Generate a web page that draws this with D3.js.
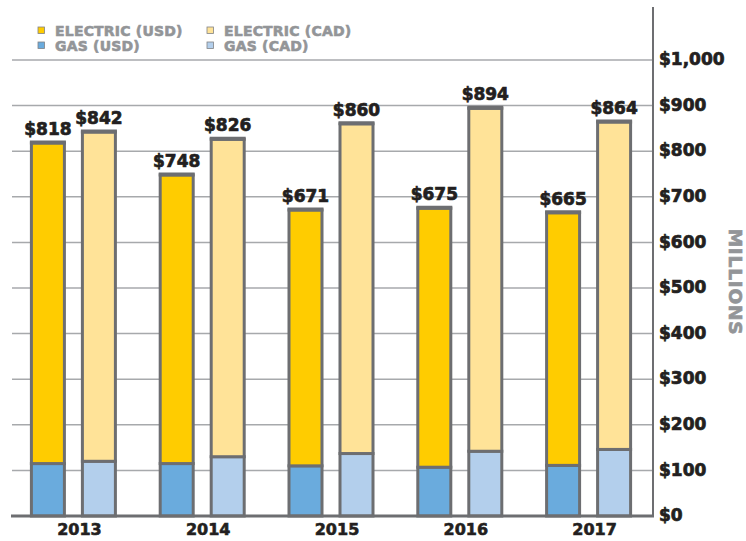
<!DOCTYPE html>
<html>
<head>
<meta charset="utf-8">
<script src="https://cdn.jsdelivr.net/npm/d3@7"></script>
<style>
  html, body { margin: 0; padding: 0; background: #fff; }
  svg { display: block; }
  text { font-family: "DejaVu Sans", sans-serif; font-weight: bold; }
</style>
</head>
<body>
<script>
// Revenue by year, in millions
const years = ["2013", "2014", "2015", "2016", "2017"];
const totalUsd = [818, 748, 671, 675, 665];
const totalCad = [842, 826, 860, 894, 864];
const gasUsd = [115, 115, 110, 107, 111];
const gasCad = [120, 130, 137, 142, 146];
const yTicks = [0, 100, 200, 300, 400, 500, 600, 700, 800, 900, 1000];

const legendItems = [
  { label: "ELECTRIC (USD)", color: "#ffcc00" },
  { label: "ELECTRIC (CAD)", color: "#ffe398" },
  { label: "GAS (USD)", color: "#6aabdd" },
  { label: "GAS (CAD)", color: "#b3cfec" }
];

const W = 746, H = 541;
const svg = d3.select("body").append("svg").attr("width", W).attr("height", H);

const plotLeft = 9, plotRight = 653, baseY = 516, topY = 60;
const x = d3.scaleBand().domain(years).range([plotLeft, plotRight]).padding(0);
const y = d3.scaleLinear().domain([0, 1000]).range([baseY, topY]);

const stroke = "#6d6e71";
const gridColor = "#a7a9ac";
const textDark = "#231f20";
const textGrey = "#939598";

// gridlines
svg.append("g").selectAll("line").data(yTicks.filter(d => d > 0)).join("line")
  .attr("x1", 12).attr("x2", plotRight)
  .attr("y1", d => y(d)).attr("y2", d => y(d))
  .attr("stroke", gridColor).attr("stroke-width", 1.5);

// bars
const barW = 33, offset = 25.5;
const rows = years.map((yr, i) => ({
  year: yr,
  bars: [
    { dx: -offset, gas: gasUsd[i], total: totalUsd[i], gasColor: "#6aabdd", elecColor: "#ffcc00" },
    { dx: offset, gas: gasCad[i], total: totalCad[i], gasColor: "#b3cfec", elecColor: "#ffe398" }
  ]
}));

const groups = svg.append("g").selectAll("g").data(rows).join("g")
  .attr("transform", d => `translate(${x(d.year) + x.bandwidth() / 2},0)`);

const bars = groups.selectAll("g.bar").data(d => d.bars).join("g").attr("class", "bar");

bars.append("rect")
  .attr("x", d => d.dx - barW / 2).attr("width", barW)
  .attr("y", d => y(d.gas)).attr("height", d => y(0) - y(d.gas))
  .attr("fill", d => d.gasColor).attr("stroke", stroke).attr("stroke-width", 3);

bars.append("rect")
  .attr("x", d => d.dx - barW / 2).attr("width", barW)
  .attr("y", d => y(d.total)).attr("height", d => y(d.gas) - y(d.total))
  .attr("fill", d => d.elecColor).attr("stroke", stroke).attr("stroke-width", 3);

// heavier cap on bar tops
bars.append("line")
  .attr("x1", d => d.dx - barW / 2 - 1.5).attr("x2", d => d.dx + barW / 2 + 1.5)
  .attr("y1", d => y(d.total) - 0.5).attr("y2", d => y(d.total) - 0.5)
  .attr("stroke", stroke).attr("stroke-width", 4);

bars.append("text")
  .attr("x", d => d.dx).attr("y", d => y(d.total) - 8)
  .attr("text-anchor", "middle").attr("font-size", 17).attr("fill", textDark)
  .attr("stroke", textDark).attr("stroke-width", 0.7)
  .text(d => "$" + d.total);

// baseline and axis line
svg.append("line").attr("x1", 11).attr("x2", plotRight + 1)
  .attr("y1", baseY).attr("y2", baseY)
  .attr("stroke", stroke).attr("stroke-width", 3);
svg.append("line").attr("x1", plotRight).attr("x2", plotRight)
  .attr("y1", 7).attr("y2", baseY + 1)
  .attr("stroke", stroke).attr("stroke-width", 2);

// y axis labels
const yAxis = d3.axisRight(y).tickValues(yTicks).tickSize(0).tickPadding(6)
  .tickFormat(d => "$" + d3.format(",")(d));
const ya = svg.append("g").attr("transform", `translate(${plotRight},0)`).call(yAxis);
ya.select(".domain").remove();
ya.selectAll("text").attr("font-size", 17).attr("fill", textDark)
  .attr("stroke", textDark).attr("stroke-width", 0.7)
  .attr("font-family", "DejaVu Sans").attr("font-weight", "bold").attr("dy", "0.28em");

// year labels
const xAxis = d3.axisBottom(x).tickSize(0).tickPadding(0);
const xa = svg.append("g").attr("transform", `translate(6,${baseY})`).call(xAxis);
xa.select(".domain").remove();
xa.selectAll("text").attr("font-size", 16).attr("fill", textDark)
  .attr("stroke", textDark).attr("stroke-width", 0.6)
  .attr("font-family", "DejaVu Sans").attr("font-weight", "bold")
  .attr("dy", "1.19em");

// axis title
svg.append("text")
  .attr("transform", "translate(729,282) rotate(90)")
  .attr("text-anchor", "middle").attr("font-size", 18.5).attr("fill", textGrey)
  .attr("stroke", textGrey).attr("stroke-width", 0.7)
  .attr("letter-spacing", 0.8)
  .text("MILLIONS");

// legend
const legend = svg.append("g");
const li = legend.selectAll("g").data(legendItems).join("g")
  .attr("transform", (d, i) => `translate(${38 + (i % 2) * 169},${27 + Math.floor(i / 2) * 15})`);
li.append("rect").attr("width", 6.5).attr("height", 6.5)
  .attr("fill", d => d.color).attr("stroke", "#808285").attr("stroke-width", 0.8);
li.append("text").attr("x", 17).attr("y", 8.5)
  .attr("font-size", 14).attr("fill", textGrey)
  .attr("stroke", textGrey).attr("stroke-width", 0.6)
  .attr("letter-spacing", 0.2)
  .text(d => d.label);
</script>
</body>
</html>
